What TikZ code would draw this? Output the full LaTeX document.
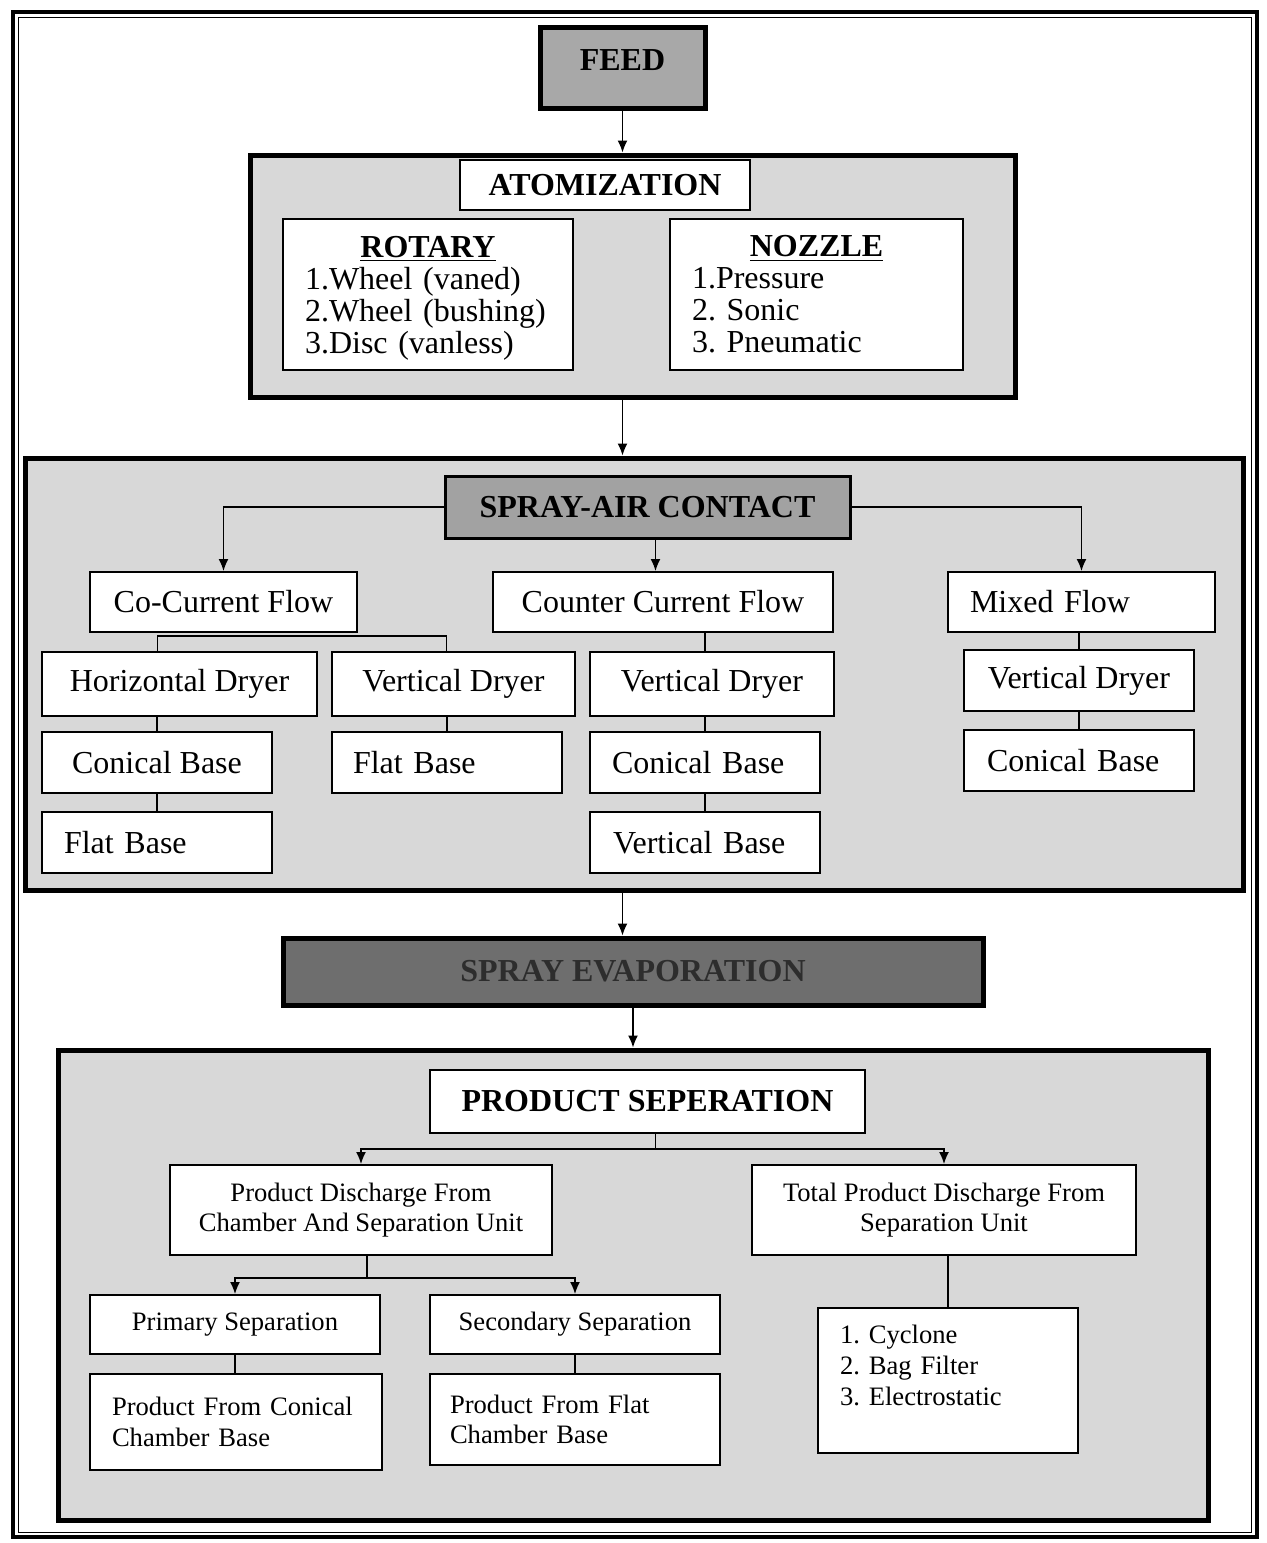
\documentclass[tikz,border=0pt]{standalone}
\usepackage{fontspec}
\setmainfont{Liberation Serif}
\usetikzlibrary{arrows.meta,calc}
\definecolor{contfill}{RGB}{216,216,216}
\definecolor{feedfill}{RGB}{168,168,168}
\definecolor{sacfill}{RGB}{162,162,162}
\definecolor{sefill}{RGB}{110,110,110}
\definecolor{setext}{RGB}{45,45,45}
\frenchspacing
\newcommand\mkbox[7]{%
  \pgfmathsetlengthmacro\bxw{(#4-#2)*0.5pt}%
  \pgfmathsetlengthmacro\bxh{(#5-#3)*0.5pt}%
  \node[#6, minimum width=\bxw, minimum height=\bxh] (#1) at ({(#2+#4)/2},{(#3+#5)/2}) {#7};}
\newcommand\mkboxl[8]{%
  \pgfmathsetlengthmacro\bxw{(#4-#2)*0.5pt}%
  \pgfmathsetlengthmacro\bxh{(#5-#3)*0.5pt}%
  \pgfmathsetlengthmacro\bxt{(#4-#2-2*#6)*0.5pt}%
  \pgfmathsetlengthmacro\bxp{#6*0.5pt}%
  \node[#7, minimum width=\bxw, minimum height=\bxh, text width=\bxt, inner xsep=\bxp, align=left] (#1) at ({(#2+#4)/2},{(#3+#5)/2}) {#8};}
\tikzset{
  bigf/.style={font=\fontsize{16}{16}\selectfont\frenchspacing},
  smallf/.style={font=\fontsize{13.3}{15.3}\selectfont\frenchspacing},
  thinbox/.style={draw, line width=1pt, fill=white, inner ysep=0pt, bigf},
  pbox/.style={draw, line width=1pt, fill=white, inner ysep=0pt, smallf},
  cont/.style={draw, line width=2.5pt, fill=contfill},
  arr/.style={-{Latex[length=6pt,width=5pt]}, line width=0.75pt},
  conn/.style={line width=0.75pt},
}
\begin{document}
\begin{tikzpicture}[x=0.5pt,y=-0.5pt]
\useasboundingbox (0,0) rectangle (1267,1543);
\fill[white] (0,0) rectangle (1267,1543);
% outer frame
\draw[line width=1.6pt] (13,12) rectangle (1257,1537);
\draw[line width=0.5pt] (18,17) rectangle (1251,1532);
% containers
\mkbox{atomc}{250}{155}{1015}{397}{cont}{}
\mkbox{sacc}{25}{458}{1243}{890}{cont}{}
\mkbox{psc}{58}{1050}{1208}{1520}{cont}{}
% FEED
\mkbox{feed}{540}{27}{705}{108}{draw, line width=2.5pt, fill=feedfill, bigf, text depth=7pt}{\textbf{FEED}}
% atomization
\mkbox{atom}{460}{160}{750}{210}{thinbox}{\textbf{ATOMIZATION}}
\mkboxl{rot}{283}{219}{573}{370}{22}{thinbox}{\makebox[\linewidth]{\textbf{\underline{ROTARY}}}\\1.Wheel (vaned)\\2.Wheel (bushing)\\\raisebox{0pt}[\height][0pt]{3.Disc (vanless)}}
\mkboxl{noz}{670}{219}{963}{370}{22}{thinbox}{\makebox[\linewidth]{\textbf{\underline{NOZZLE}}}\\1.Pressure\\2. Sonic\\3. Pneumatic}
% spray-air contact
\mkbox{sac}{445}{476}{850}{538}{thinbox, line width=1.5pt, fill=sacfill}{\textbf{SPRAY-AIR CONTACT}}
\mkbox{cc}{90}{572}{357}{632}{thinbox}{Co-Current Flow}
\mkbox{ccf}{493}{572}{833}{632}{thinbox}{Counter Current Flow}
\mkboxl{mf}{948}{572}{1215}{632}{22}{thinbox}{Mixed Flow}
\mkbox{hd}{42}{652}{317}{716}{thinbox}{Horizontal Dryer}
\mkbox{vd1}{332}{652}{575}{716}{thinbox}{Vertical Dryer}
\mkbox{vd2}{590}{652}{834}{716}{thinbox}{Vertical Dryer}
\mkbox{vd3}{964}{650}{1194}{711}{thinbox}{Vertical Dryer}
\mkbox{cb1}{42}{732}{272}{793}{thinbox}{Conical Base}
\mkboxl{fb2}{332}{732}{562}{793}{21}{thinbox}{Flat Base}
\mkboxl{cb2}{590}{732}{820}{793}{22}{thinbox}{Conical Base}
\mkboxl{cb3}{964}{730}{1194}{791}{23}{thinbox}{Conical Base}
\mkboxl{fb1}{42}{812}{272}{873}{22}{thinbox}{Flat Base}
\mkboxl{vb}{590}{812}{820}{873}{23}{thinbox}{Vertical Base}
% spray evaporation
\mkbox{se}{283}{938}{983}{1005}{draw, line width=2.5pt, fill=sefill, bigf, text=setext}{\textbf{SPRAY EVAPORATION}}
% product separation
\mkbox{ps}{430}{1070}{865}{1133}{thinbox}{\textbf{PRODUCT SEPERATION}}
\mkbox{pd}{170}{1165}{552}{1255}{pbox, align=center}{Product Discharge From\\Chamber And Separation Unit}
\mkbox{tp}{752}{1165}{1136}{1255}{pbox, align=center}{Total Product Discharge From\\Separation Unit}
\mkbox{prim}{90}{1295}{380}{1354}{pbox}{Primary Separation}
\mkbox{sec}{430}{1295}{720}{1354}{pbox}{Secondary Separation}
\mkboxl{pfc}{90}{1374}{382}{1470}{22}{pbox}{Product From Conical\\Chamber Base}
\mkboxl{pff}{430}{1374}{720}{1465}{20}{pbox}{Product From Flat\\Chamber Base}
\mkboxl{list}{818}{1308}{1078}{1453}{22}{pbox}{1. Cyclone\\2. Bag Filter\\3. Electrostatic\\\mbox{}}
% connectors
\draw[arr] (feed.south) -- (feed.south |- atomc.north);
\draw[arr] (feed.south |- atomc.south) -- (feed.south |- sacc.north);
\draw[arr] (sac.west) -| (cc.north);
\draw[arr] ([xshift=4pt]sac.south) -- ([xshift=4pt]sac.south |- ccf.north);
\draw[arr] (sac.east) -| (mf.north);
\draw[conn] ([xshift=-11pt]hd.north) -- ++(0,-15) -| ([xshift=-3.5pt]vd1.north);
\draw[conn] (cb1.north) -- (cb1.north |- hd.south);
\draw[conn] (fb1.north) -- (cb1.south);
\draw[conn] (fb2.north) -- (fb2.north |- vd1.south);
\draw[conn] (cb2.north |- ccf.south) -- (cb2.north |- vd2.north);
\draw[conn] (cb2.north |- vd2.south) -- (cb2.north);
\draw[conn] (cb2.south) -- (cb2.south |- vb.north);
\draw[conn] (vd3.north |- mf.south) -- (vd3.north);
\draw[conn] (vd3.south) -- (vd3.south |- cb3.north);
\draw[arr] (feed.south |- sacc.south) -- (feed.south |- se.north);
\draw[arr] (se.south) -- (se.south |- psc.north);
\draw[arr] ([xshift=4pt]ps.south) -- ++(0,15) -| (pd.north);
\draw[arr] ([xshift=4pt]ps.south) -- ++(0,15) -| (tp.north);
\draw[arr] ([xshift=3pt]pd.south) -- ++(0,22) -| (prim.north);
\draw[arr] ([xshift=3pt]pd.south) -- ++(0,22) -| (sec.north);
\draw[conn] (prim.south) -- (prim.south |- pfc.north);
\draw[conn] (sec.south) -- (sec.south |- pff.north);
\draw[conn] (list.north) -- (list.north |- tp.south);
\end{tikzpicture}
\end{document}
